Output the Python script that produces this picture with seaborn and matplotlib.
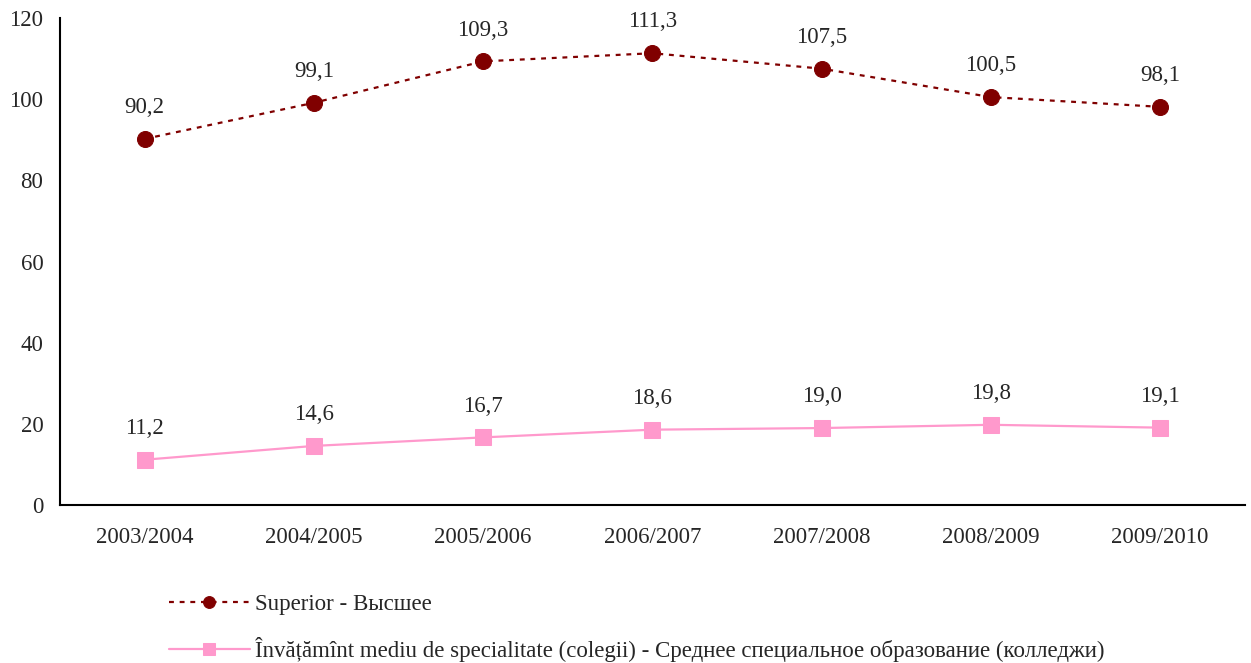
import numpy as np
import pandas as pd
import matplotlib
matplotlib.use("Agg")
import matplotlib.pyplot as plt
import seaborn as sns

years = ["2003/2004", "2004/2005", "2005/2006", "2006/2007", "2007/2008", "2008/2009", "2009/2010"]
superior = [90.2, 99.1, 109.3, 111.3, 107.5, 100.5, 98.1]
colegii = [11.2, 14.6, 16.7, 18.6, 19.0, 19.8, 19.1]

label_sup = "Superior - Высшее"
label_col = "Învățămînt mediu de specialitate (colegii) - Среднее специальное образование (колледжи)"

sns.set_style("white")
plt.rcParams["font.family"] = ["Liberation Serif", "DejaVu Serif"]
fs = 16.5

fig = plt.figure(figsize=(12.51, 6.63), dpi=100)
ax = fig.add_axes([0.048, 0.238, 0.947, 0.735])

df = pd.DataFrame({"an": years, "sup": superior, "col": colegii})
df["x"] = np.arange(len(years))

sns.lineplot(data=df, x="x", y="sup", ax=ax, color="#800000", lw=1.6,
             marker="o", markersize=11.5, markeredgecolor="#800000",
             label=label_sup)
ax.lines[-1].set_dashes((2.2, 2.6))
sns.lineplot(data=df, x="x", y="col", ax=ax, color="#FF99CC", lw=1.6,
             marker="s", markersize=11, markeredgecolor="#FF99CC",
             label=label_col)

for i in range(len(years)):
    ax.annotate(f"{superior[i]:.1f}".replace(".", ","), (i, superior[i]),
                xytext=(0, 15), textcoords="offset points", ha="center",
                va="bottom", fontsize=fs)
    ax.annotate(f"{colegii[i]:.1f}".replace(".", ","), (i, colegii[i]),
                xytext=(0, 15), textcoords="offset points", ha="center",
                va="bottom", fontsize=fs)

ax.set_xlim(-0.5, len(years) - 0.5)
ax.set_ylim(0, 120)
ax.set_yticks(np.arange(0, 121, 20))
ax.set_yticklabels([str(v) for v in range(0, 121, 20)], fontsize=fs)
ax.set_xticks(np.arange(-0.5, len(years), 1))
ax.set_xticklabels([""] * (len(years) + 1))
ax.set_xticks(np.arange(len(years)), minor=True)
ax.set_xticklabels(years, minor=True, fontsize=fs)
ax.tick_params(axis="x", which="major", direction="out", length=6, width=1.2, color="black")
ax.tick_params(axis="x", which="minor", length=0, pad=16)
ax.tick_params(axis="y", direction="out", length=6, width=1.2, color="black", pad=6)
ax.set_xlabel("")
ax.set_ylabel("")

for s in ["top", "right"]:
    ax.spines[s].set_visible(False)
for s in ["left", "bottom"]:
    ax.spines[s].set_color("black")
    ax.spines[s].set_linewidth(1.5)

leg = ax.legend(loc="upper left", bbox_to_anchor=(0.128, 0.118), bbox_transform=fig.transFigure,
                frameon=False, fontsize=fs, handlelength=3.5, handletextpad=0.25,
                labelspacing=0.95, borderaxespad=0)
for h in leg.legend_handles:
    h.set_markersize(8.5)

fig.savefig("out.png", dpi=100)
